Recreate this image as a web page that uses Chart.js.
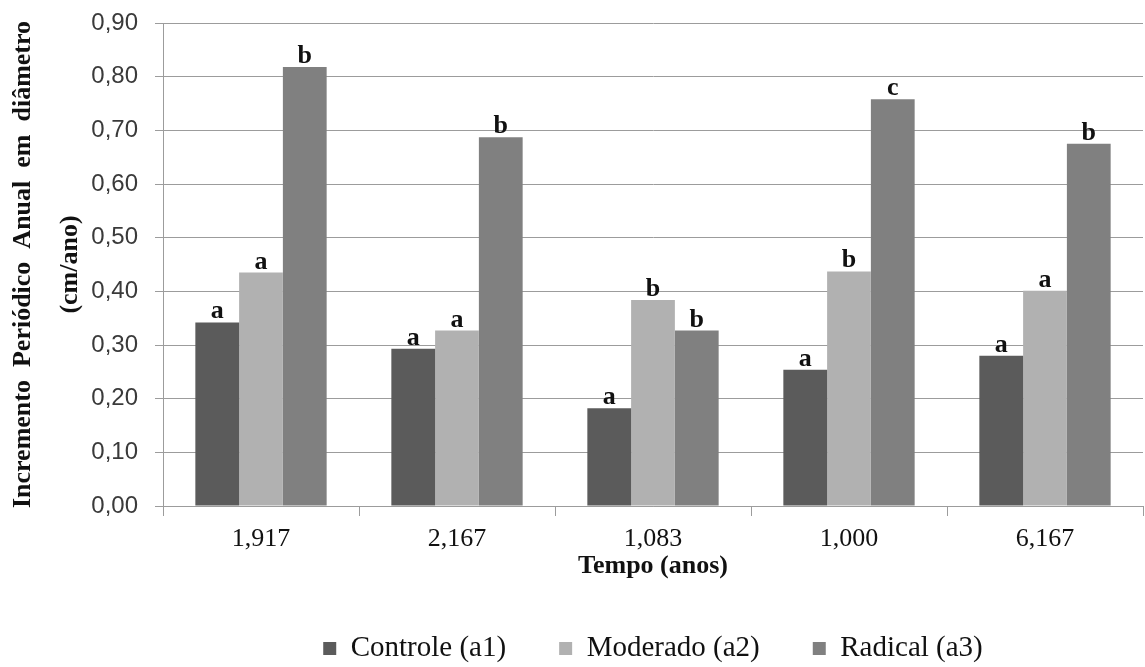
<!DOCTYPE html>
<html>
<head>
<meta charset="utf-8">
<script src="https://cdn.jsdelivr.net/npm/chart.js@4.4.1/dist/chart.umd.min.js"></script>
<style>
  html, body { margin: 0; padding: 0; background: #ffffff; }
  #wrap { width: 1145px; height: 667px; position: relative; }
</style>
</head>
<body>
<div id="wrap"><canvas id="c" width="1145" height="667"></canvas></div>
<script>
// ---- Data ----
const categories = ['1,917', '2,167', '1,083', '1,000', '6,167'];
const seriesNames = ['Controle (a1)', 'Moderado (a2)', 'Radical (a3)'];
const controle = [0.342, 0.293, 0.182, 0.254, 0.280];
const moderado = [0.435, 0.327, 0.384, 0.437, 0.401];
const radical  = [0.818, 0.687, 0.327, 0.758, 0.675];
const lettersControle = ['a', 'a', 'a', 'a', 'a'];
const lettersModerado = ['a', 'a', 'b', 'b', 'a'];
const lettersRadical  = ['b', 'b', 'b', 'c', 'b'];
const yTickLabels = ['0,00', '0,10', '0,20', '0,30', '0,40', '0,50', '0,60', '0,70', '0,80', '0,90'];
const yTitleLines = ['Incremento  Periódico  Anual  em  diâmetro', '(cm/ano)'];
const xTitle = 'Tempo (anos)';

const colors = ['#5b5b5b', '#b1b1b1', '#808080'];
const letterSets = [lettersControle, lettersModerado, lettersRadical];
const gridColor = '#9c9c9c';

const letterPlugin = {
  id: 'letters',
  afterDatasetsDraw(chart) {
    const ctx = chart.ctx;
    ctx.save();
    ctx.font = 'bold 26px "Liberation Serif", "Times New Roman", serif';
    ctx.fillStyle = '#111111';
    ctx.textAlign = 'center';
    ctx.textBaseline = 'alphabetic';
    chart.data.datasets.forEach((ds, di) => {
      const meta = chart.getDatasetMeta(di);
      meta.data.forEach((bar, i) => {
        ctx.fillText(letterSets[di][i], bar.x, bar.y - 4);
      });
    });
    ctx.restore();
  }
};

new Chart(document.getElementById('c'), {
  type: 'bar',
  data: {
    labels: categories,
    datasets: [
      { label: seriesNames[0], data: controle, backgroundColor: colors[0] },
      { label: seriesNames[1], data: moderado, backgroundColor: colors[1] },
      { label: seriesNames[2], data: radical, backgroundColor: colors[2] }
    ]
  },
  options: {
    responsive: false,
    animation: false,
    devicePixelRatio: 1,
    layout: { padding: { top: 23, right: 2, left: 0, bottom: 0 } },
    datasets: { bar: { categoryPercentage: 0.67, barPercentage: 1.0, borderWidth: 0 } },
    plugins: {
      tooltip: { enabled: false },
      legend: {
        position: 'bottom',
        fullSize: false,
        maxHeight: 86,
        labels: {
          boxWidth: 13,
          boxHeight: 13,
          padding: 53,
          color: '#111111',
          font: { family: '"Liberation Serif", "Times New Roman", serif', size: 29 }
        }
      }
    },
    scales: {
      x: {
        afterFit(scale) { scale.height = 75; scale.paddingLeft = 0; scale.paddingRight = 0; },
        border: { display: true, color: gridColor, width: 1 },
        grid: { display: true, drawOnChartArea: false, drawTicks: true, tickLength: 10, color: gridColor, offset: true },
        ticks: {
          padding: 8,
          color: '#111111',
          font: { family: '"Liberation Serif", "Times New Roman", serif', size: 26 }
        },
        title: {
          display: true,
          text: xTitle,
          color: '#111111',
          padding: { top: 0, bottom: 0 },
          font: { family: '"Liberation Serif", "Times New Roman", serif', size: 26, weight: 'bold', lineHeight: 1.1 }
        }
      },
      y: {
        min: 0,
        max: 0.9,
        afterFit(scale) { scale.width = 163; scale.paddingTop = 0; scale.paddingBottom = 0; },
        afterBuildTicks(scale) {
          scale.ticks = yTickLabels.map((t, i) => ({ value: i / 10 }));
        },
        border: { display: true, color: gridColor, width: 1 },
        grid: { color: gridColor, lineWidth: 1, tickLength: 8, drawTicks: true },
        ticks: {
          padding: 17,
          color: '#3a3a3a',
          font: { family: '"Liberation Sans", Arial, sans-serif', size: 24 },
          callback: (v, i) => yTickLabels[i]
        },
        title: {
          display: true,
          text: yTitleLines,
          color: '#111111',
          padding: { top: 0, bottom: 0 },
          font: { family: '"Liberation Serif", "Times New Roman", serif', size: 26, weight: 'bold', lineHeight: 1.8 }
        }
      }
    }
  },
  plugins: [letterPlugin]
});
</script>
</body>
</html>
